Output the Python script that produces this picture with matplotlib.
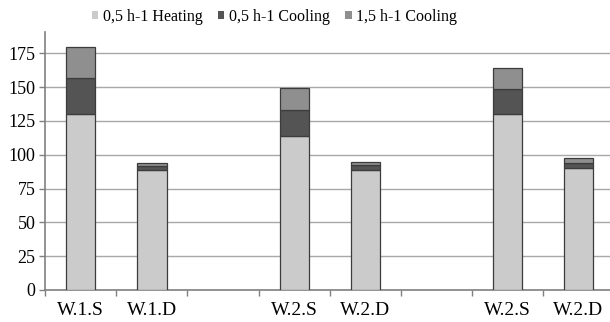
import numpy as np
import matplotlib
matplotlib.use("Agg")
from matplotlib import pyplot as plt
from matplotlib.patches import Patch

# categories (empty strings are the gaps between groups)
categories = ['W.1.S', 'W.1.D', '', 'W.2.S', 'W.2.D', '', 'W.2.S', 'W.2.D']
heating_05 = [130, 89, 0, 114, 89, 0, 130, 90]
cooling_05 = [27, 3, 0, 19, 3.5, 0, 18.5, 4]
cooling_15 = [23, 2, 0, 16, 2.5, 0, 15.5, 3.5]
series_names = ['0,5 h-1 Heating', '0,5 h-1 Cooling', '1,5 h-1 Cooling']
colors = ['#cbcbcb', '#545454', '#8f8f8f']

plt.rcParams['font.family'] = ['Liberation Serif', 'DejaVu Serif']

f = plt.figure(figsize=(6.1, 3.22), dpi=100)
ax1 = f.add_axes([0.0743, 0.0994, 0.9323, 0.8022])

x = np.arange(len(categories))
keep = np.array([c != '' for c in categories])
h = np.array(heating_05, dtype=float)
c5 = np.array(cooling_05, dtype=float)
c15 = np.array(cooling_15, dtype=float)

edge = '#3c3c3c'
ax1.bar(x[keep], h[keep], width=0.41, color=colors[0], edgecolor=edge, linewidth=0.9, zorder=3)
ax1.bar(x[keep], c5[keep], bottom=h[keep], width=0.41, color=colors[1], edgecolor=edge, linewidth=0.9, zorder=3)
ax1.bar(x[keep], c15[keep], bottom=(h + c5)[keep], width=0.41, color=colors[2], edgecolor=edge, linewidth=0.9, zorder=3)

ax1.set_xlim(-0.5, len(categories) - 0.5)
ax1.set_ylim(0, 191)
ax1.set_yticks(np.arange(0, 176, 25))
ax1.yaxis.grid(True, color='#a8a8a8', linewidth=1.0, zorder=0)
ax1.set_axisbelow(True)

ax1.set_xticks(x)
ax1.set_xticklabels(categories)
ax1.set_xticks(np.arange(-0.5, len(categories), 1.0), minor=True)
ax1.tick_params(axis='x', which='major', length=0, pad=8.5, labelsize=14)
ax1.tick_params(axis='x', which='minor', length=4, width=1, color='#808080', direction='out')
ax1.tick_params(axis='y', length=4, width=1, color='#808080', pad=3, labelsize=13)

for side in ['top', 'right']:
  ax1.spines[side].set_visible(False)
for side in ['left', 'bottom']:
  ax1.spines[side].set_color('#808080')
  ax1.spines[side].set_linewidth(1.2)

handles = [Patch(facecolor=c, edgecolor='none') for c in colors]
f.legend(handles, series_names, loc='center', bbox_to_anchor=(0.45, 0.947), ncol=3,
         frameon=False, fontsize=11.5, handlelength=0.4, handleheight=0.4,
         handletextpad=0.3, columnspacing=0.95, borderpad=0)

f.savefig('out.png', dpi=100)
